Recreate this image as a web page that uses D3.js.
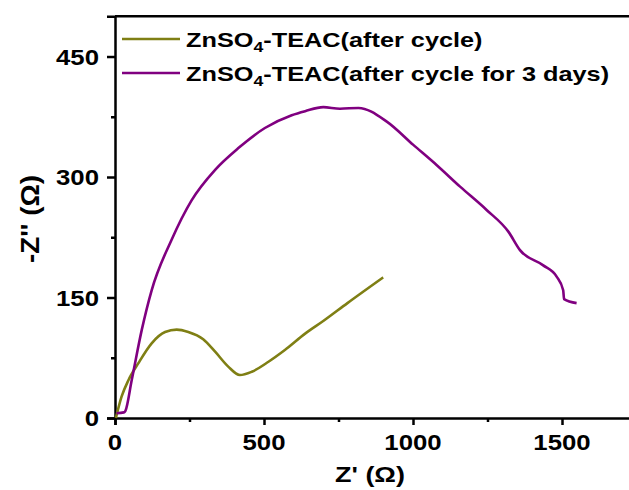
<!DOCTYPE html>
<html>
<head>
<meta charset="utf-8">
<script src="https://cdnjs.cloudflare.com/ajax/libs/d3/7.8.5/d3.min.js"></script>
<style>
  html, body { margin: 0; padding: 0; background: #fff; }
  svg { display: block; }
  text { font-family: "Liberation Sans", Arial, sans-serif; font-weight: bold; fill: #000; }
</style>
</head>
<body>
<script>
// ---- data ----
const seriesNames = ["ZnSO4-TEAC(after cycle)", "ZnSO4-TEAC(after cycle for 3 days)"];
const xTickValues = [0, 500, 1000, 1500];
const yTickValues = [0, 150, 300, 450];
const xMinorTicks = [250, 750, 1250, 1750];
const yMinorTicks = [75, 225, 375];

const afterCycleX = [3, 22, 45, 78, 123, 168, 207, 246, 296, 336, 380, 419, 459, 515, 570, 638, 700, 780, 900];
const afterCycleY = [0, 26.5, 47, 68, 93, 107, 110, 107, 98, 82.5, 64, 53.5, 57.6, 70, 84.6, 105, 121, 143, 175];

const threeDaysX = [5, 30, 35, 56, 90, 123, 190, 257, 336, 414, 503, 593, 638, 699, 755, 817, 912, 1001, 1079, 1158, 1247, 1320, 1359, 1437, 1482, 1504, 1507, 1549];
const threeDaysY = [6, 7, 9, 47, 110, 159, 222, 271, 309, 336, 361, 377, 382, 387, 385, 386, 369, 340, 315, 288, 259, 232, 209, 190, 176, 159, 148, 143];

const colors = ["#7f7f14", "#800080"];

// ---- layout ----
const W = 629, H = 490;
const mLeft = 115, mBottom = 418;
const svg = d3.select("body").append("svg").attr("width", W).attr("height", H);

const x = d3.scaleLinear().domain([0, 1750]).range([mLeft, mLeft + 1750 * 0.298]);
const y = d3.scaleLinear().domain([0, 500]).range([mBottom, mBottom - 500 * 0.8033]);

// frame top/right lines
svg.append("line").attr("x1", mLeft).attr("x2", x(1750)).attr("y1", y(500)).attr("y2", y(500))
  .attr("stroke", "#000").attr("stroke-width", 2.5);
svg.append("line").attr("x1", x(1750)).attr("x2", x(1750)).attr("y1", y(500)).attr("y2", y(0))
  .attr("stroke", "#000").attr("stroke-width", 2.5);

// axes
const xAxis = d3.axisBottom(x).tickValues(xTickValues).tickSize(7).tickFormat("");
const yAxis = d3.axisLeft(y).tickValues(yTickValues).tickSize(8).tickFormat("");
const gx = svg.append("g").attr("transform", `translate(0,${mBottom})`).call(xAxis);
const gy = svg.append("g").attr("transform", `translate(${mLeft},0)`).call(yAxis);
const gx2 = svg.append("g").attr("transform", `translate(0,${mBottom})`)
  .call(d3.axisBottom(x).tickValues(xMinorTicks).tickSize(4).tickFormat(""));
const gy2 = svg.append("g").attr("transform", `translate(${mLeft},0)`)
  .call(d3.axisLeft(y).tickValues(yMinorTicks).tickSize(4).tickFormat(""));
[gx, gy, gx2, gy2].forEach(g => {
  g.selectAll("path.domain").attr("stroke", "#000").attr("stroke-width", 2.5);
  g.selectAll(".tick line").attr("stroke", "#000").attr("stroke-width", 2.5);
});
gx2.select("path.domain").remove();
gy2.select("path.domain").remove();

function hScale(sel, k, ax, ay) {
  sel.attr("transform", `translate(${ax},${ay}) scale(${k},1) translate(${-ax},${-ay})`);
}

// tick labels
const tickFont = 22, tickSx = 1.17;
xTickValues.forEach(v => {
  const t = svg.append("text").attr("x", x(v)).attr("y", 450).attr("text-anchor", "middle")
    .attr("font-size", tickFont).text(v);
  hScale(t, tickSx, x(v), 450);
});
yTickValues.forEach(v => {
  const t = svg.append("text").attr("x", 99).attr("y", y(v) + 8).attr("text-anchor", "end")
    .attr("font-size", tickFont).text(v);
  hScale(t, tickSx, 99, y(v));
});

// axis titles
const xt = svg.append("text").attr("x", 370).attr("y", 482).attr("text-anchor", "middle")
  .attr("font-size", 23).text("Z' (\u03A9)");
{
  const w = xt.node().getComputedTextLength();
  hScale(xt, 70 / w, 370, 482);
}
const yt = svg.append("text").attr("text-anchor", "middle").attr("font-size", 23).text("-Z'' (\u03A9)");
{
  const w = yt.node().getComputedTextLength();
  yt.attr("transform", `translate(39,219) rotate(-90) scale(${88 / w},1.12)`);
}

// curves
const line = d3.line().x(d => x(d[0])).y(d => y(d[1])).curve(d3.curveMonotoneX);
const series = [
  afterCycleX.map((v, i) => [v, afterCycleY[i]]),
  threeDaysX.map((v, i) => [v, threeDaysY[i]])
];
series.forEach((s, i) => {
  svg.append("path").datum(s).attr("d", line).attr("fill", "none")
    .attr("stroke", colors[i]).attr("stroke-width", 2.6).attr("stroke-linejoin", "round");
});

// legend
const legY = [39, 73];
seriesNames.forEach((name, i) => {
  svg.append("line").attr("x1", 122).attr("x2", 180).attr("y1", legY[i]).attr("y2", legY[i])
    .attr("stroke", colors[i]).attr("stroke-width", 2.6);
  const m = name.match(/^(ZnSO)(4)(.*)$/);
  const t = svg.append("text").attr("x", 186).attr("y", legY[i] + 8).attr("font-size", 20);
  t.append("tspan").text(m[1]);
  t.append("tspan").attr("font-size", 14).attr("dy", 5).text(m[2]);
  t.append("tspan").attr("dy", -5).text(m[3]);
  hScale(t, 1.265, 186, legY[i]);
});
</script>
</body>
</html>
